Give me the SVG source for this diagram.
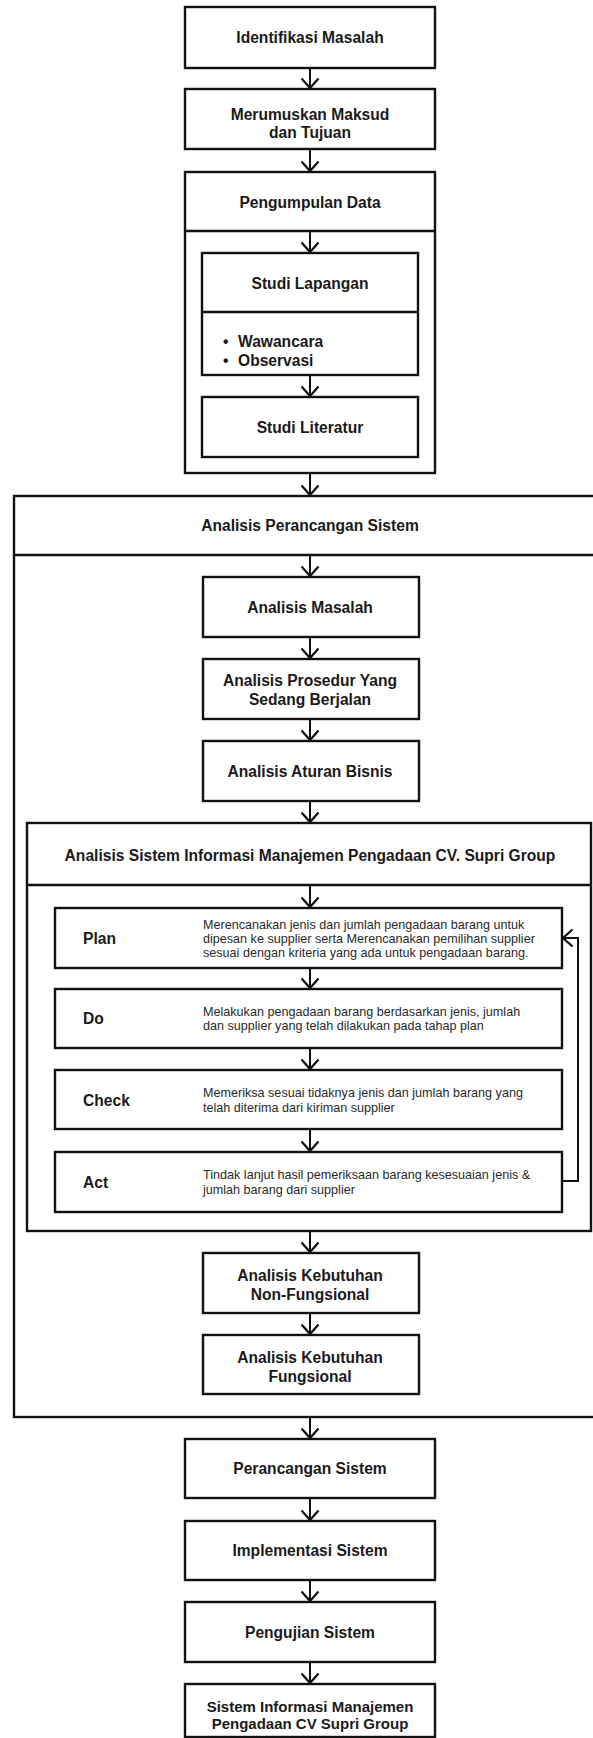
<svg xmlns="http://www.w3.org/2000/svg" width="593" height="1738" viewBox="0 0 593 1738">
<style>
.b{fill:#fff;stroke:#111;stroke-width:2.4}
.d{fill:none;stroke:#111;stroke-width:2.4}
.t{font-family:"Liberation Sans",Arial,sans-serif;font-weight:bold;font-size:15.6px;fill:#1a1a1a;text-anchor:middle}
.l{font-family:"Liberation Sans",Arial,sans-serif;font-weight:bold;font-size:15.6px;fill:#1a1a1a}
.s{font-family:"Liberation Sans",Arial,sans-serif;font-size:12.6px;fill:#2a2a2a}
.c{fill:none;stroke:#111;stroke-width:2}
</style>
<defs>
<marker id="ah" markerUnits="userSpaceOnUse" markerWidth="24" markerHeight="24" viewBox="-12 -12 24 24" refX="0" refY="0" orient="auto">
<path d="M-9.5,-8.5 L0,0 L-9.5,8.5" fill="none" stroke="#111" stroke-width="2.2"/>
</marker>
</defs>
<rect width="593" height="1738" fill="#fff"/>

<g id="n-identifikasi"><rect class="b" x="185" y="7" width="250" height="61"/><text class="t" x="310" y="43">Identifikasi Masalah</text></g>
<g id="n-merumuskan"><rect class="b" x="185" y="89" width="250" height="60"/><text class="t" x="310" y="119.5">Merumuskan Maksud</text><text class="t" x="310" y="137.5">dan Tujuan</text></g>
<g id="n-pengumpulan"><rect class="b" x="185" y="172" width="250" height="301"/><line class="d" x1="185" y1="231" x2="435" y2="231"/><text class="t" x="310" y="208">Pengumpulan Data</text></g>
<g id="n-studilapangan"><rect class="b" x="202" y="253" width="216" height="122"/><line class="d" x1="202" y1="312" x2="418" y2="312"/><text class="t" x="310" y="289">Studi Lapangan</text><text class="l" x="223" y="346.5">•</text><text class="l" x="238" y="346.5">Wawancara</text><text class="l" x="223" y="365.5">•</text><text class="l" x="238" y="365.5">Observasi</text></g>
<g id="n-studiliteratur"><rect class="b" x="202" y="397" width="216" height="60"/><text class="t" x="310" y="433">Studi Literatur</text></g>

<g id="n-analisisperancangan"><rect class="b" x="14" y="496" width="590" height="921"/><line class="d" x1="14" y1="555" x2="604" y2="555"/><text class="t" x="310" y="531">Analisis Perancangan Sistem</text></g>
<g id="n-analisismasalah"><rect class="b" x="203" y="577" width="216" height="60"/><text class="t" x="310" y="612.5">Analisis Masalah</text></g>
<g id="n-prosedur"><rect class="b" x="203" y="659" width="216" height="60"/><text class="t" x="310" y="685.5">Analisis Prosedur Yang</text><text class="t" x="310" y="704.5">Sedang Berjalan</text></g>
<g id="n-aturan"><rect class="b" x="203" y="741" width="216" height="60"/><text class="t" x="310" y="776.5">Analisis Aturan Bisnis</text></g>

<g id="n-sim"><rect class="b" x="27" y="823" width="564" height="408"/><line class="d" x1="27" y1="885" x2="591" y2="885"/><text class="t" x="310" y="860.5">Analisis Sistem Informasi Manajemen Pengadaan CV. Supri Group</text></g>
<g id="n-plan"><rect class="b" x="55" y="908" width="507" height="60"/><text class="l" x="83" y="944">Plan</text><text class="s" x="203" y="928.5">Merencanakan jenis dan jumlah pengadaan barang untuk</text><text class="s" x="203" y="942.5">dipesan ke supplier serta Merencanakan pemilihan supplier</text><text class="s" x="203" y="956.5">sesuai dengan kriteria yang ada untuk pengadaan barang.</text></g>
<g id="n-do"><rect class="b" x="55" y="989" width="507" height="59"/><text class="l" x="83" y="1024">Do</text><text class="s" x="203" y="1015.5">Melakukan pengadaan barang berdasarkan jenis, jumlah</text><text class="s" x="203" y="1030">dan supplier yang telah dilakukan pada tahap plan</text></g>
<g id="n-check"><rect class="b" x="55" y="1070" width="507" height="59"/><text class="l" x="83" y="1105.5">Check</text><text class="s" x="203" y="1097">Memeriksa sesuai tidaknya jenis dan jumlah barang yang</text><text class="s" x="203" y="1111.5">telah diterima dari kiriman supplier</text></g>
<g id="n-act"><rect class="b" x="55" y="1152" width="507" height="60"/><text class="l" x="83" y="1187.5">Act</text><text class="s" x="203" y="1179">Tindak lanjut hasil pemeriksaan barang kesesuaian jenis &amp;</text><text class="s" x="203" y="1193.5">jumlah barang dari supplier</text></g>

<g id="n-nonfungsional"><rect class="b" x="203" y="1253" width="216" height="60"/><text class="t" x="310" y="1280.5">Analisis Kebutuhan</text><text class="t" x="310" y="1299.5">Non-Fungsional</text></g>
<g id="n-fungsional"><rect class="b" x="203" y="1335" width="216" height="59"/><text class="t" x="310" y="1362.5">Analisis Kebutuhan</text><text class="t" x="310" y="1381.5">Fungsional</text></g>

<g id="n-perancangan"><rect class="b" x="185" y="1439" width="250" height="59"/><text class="t" x="310" y="1474">Perancangan Sistem</text></g>
<g id="n-implementasi"><rect class="b" x="185" y="1521" width="250" height="59"/><text class="t" x="310" y="1556">Implementasi Sistem</text></g>
<g id="n-pengujian"><rect class="b" x="185" y="1602" width="250" height="60"/><text class="t" x="310" y="1637.5">Pengujian Sistem</text></g>
<g id="n-final"><rect class="b" x="185" y="1684" width="250" height="53"/><text class="t" x="310" y="1711.5" style="font-size:15px">Sistem Informasi Manajemen</text><text class="t" x="310" y="1728.5" style="font-size:15px">Pengadaan CV Supri Group</text></g>

<g id="connectors">
<line class="c" x1="310" y1="68" x2="310" y2="88" marker-end="url(#ah)"/>
<line class="c" x1="310" y1="149" x2="310" y2="171" marker-end="url(#ah)"/>
<line class="c" x1="310" y1="231" x2="310" y2="252" marker-end="url(#ah)"/>
<line class="c" x1="310" y1="375" x2="310" y2="396" marker-end="url(#ah)"/>
<line class="c" x1="310" y1="473" x2="310" y2="495" marker-end="url(#ah)"/>
<line class="c" x1="310" y1="555" x2="310" y2="576" marker-end="url(#ah)"/>
<line class="c" x1="310" y1="637" x2="310" y2="658" marker-end="url(#ah)"/>
<line class="c" x1="310" y1="719" x2="310" y2="740" marker-end="url(#ah)"/>
<line class="c" x1="310" y1="801" x2="310" y2="822" marker-end="url(#ah)"/>
<line class="c" x1="310" y1="885" x2="310" y2="907" marker-end="url(#ah)"/>
<line class="c" x1="310" y1="968" x2="310" y2="988" marker-end="url(#ah)"/>
<line class="c" x1="310" y1="1048" x2="310" y2="1069" marker-end="url(#ah)"/>
<line class="c" x1="310" y1="1129" x2="310" y2="1151" marker-end="url(#ah)"/>
<line class="c" x1="310" y1="1231" x2="310" y2="1252" marker-end="url(#ah)"/>
<line class="c" x1="310" y1="1313" x2="310" y2="1334" marker-end="url(#ah)"/>
<line class="c" x1="310" y1="1417" x2="310" y2="1438" marker-end="url(#ah)"/>
<line class="c" x1="310" y1="1498" x2="310" y2="1520" marker-end="url(#ah)"/>
<line class="c" x1="310" y1="1580" x2="310" y2="1601" marker-end="url(#ah)"/>
<line class="c" x1="310" y1="1662" x2="310" y2="1683" marker-end="url(#ah)"/>
<polyline class="c" points="562,1181 578,1181 578,938 563,938" marker-end="url(#ah)"/>
</g>
</svg>
